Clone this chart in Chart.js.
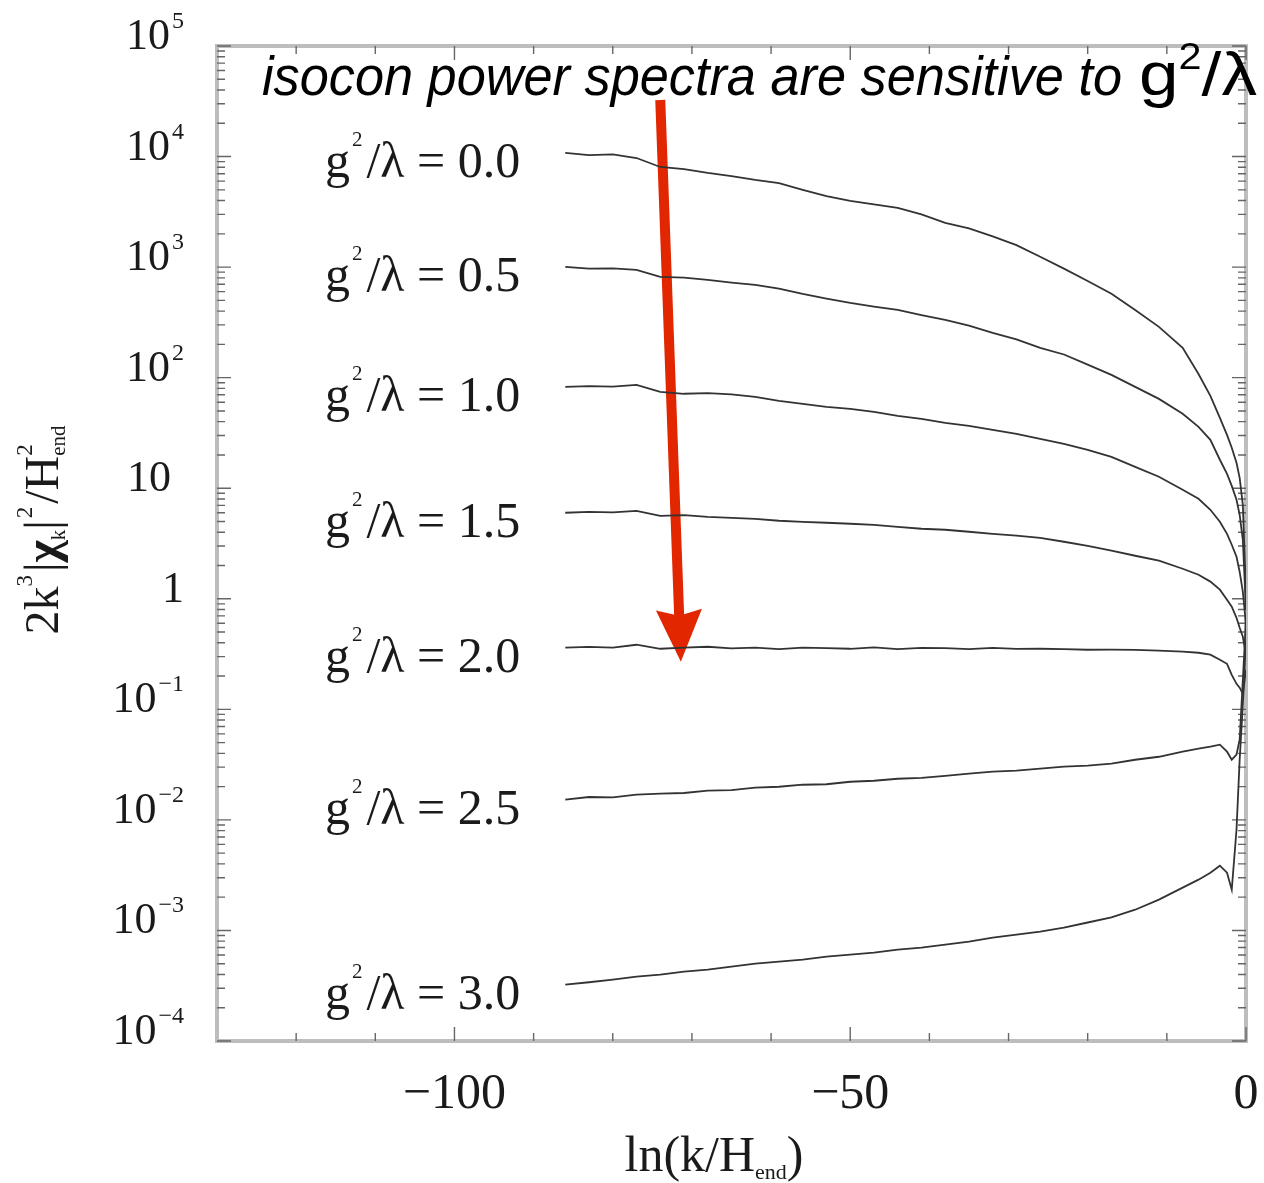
<!DOCTYPE html>
<html>
<head>
<meta charset="utf-8">
<script src="https://cdn.jsdelivr.net/npm/chart.js@4.4.1/dist/chart.umd.min.js"></script>
<style>
  html, body { margin: 0; padding: 0; background: #fff; }
  #wrap { width: 1264px; height: 1183px; }
</style>
</head>
<body>
<div id="wrap"><canvas id="spectra" width="1264" height="1183"></canvas></div>
<script>
// ln(k/H_end) sample points, shared by every curve
const lnK = [-86, -83, -80, -77, -74, -71, -68, -65, -62, -59, -56, -53, -50, -47, -44, -41,
  -38, -35, -32, -29, -26, -23, -20, -17, -14, -11, -8, -6, -4.5, -3.3, -2.4, -1.8, -1.2, -0.8, -0.4, 0];

// g^2/lambda values, one per curve
const couplings = ["0.0", "0.5", "1.0", "1.5", "2.0", "2.5", "3.0"];

// 2k^3|chi_k|^2/H_end^2
const spectraG00 = [10790, 10300, 10450, 9700, 8050, 7700, 7110, 6650, 6140, 5750, 4990, 4380, 3970, 3700, 3430, 3000,
  2510, 2240, 1900, 1580, 1240, 970, 750, 575, 410, 288, 186, 108, 68.4, 43.3, 30.4, 23.2, 17.0, 12.4, 7.08, 1.09];
const spectraG05 = [1005, 970, 975, 944, 815, 805, 766, 725, 690, 640, 573, 520, 474, 440, 410, 368,
  333, 296, 254, 222, 186, 162, 131, 106, 82.6, 64.3, 47.1, 35.9, 27.4, 18.1, 13.5, 10.5, 7.86, 5.75, 3.41, 0.794];
const spectraG10 = [82.6, 84.0, 83.0, 86.1, 74.5, 71.5, 72.5, 70.5, 67.0, 61.7, 58.0, 54.5, 52.3, 49.1, 45.2, 42.4,
  39.0, 36.6, 33.7, 31.0, 28.0, 25.2, 22.2, 19.2, 15.6, 12.7, 9.68, 8.02, 6.38, 4.97, 3.87, 3.08, 2.40, 1.75, 1.16, 0.582];
const spectraG15 = [6.00, 6.12, 6.05, 6.25, 5.63, 5.70, 5.51, 5.40, 5.29, 5.08, 4.97, 4.87, 4.77, 4.67, 4.48, 4.30,
  4.21, 4.04, 3.87, 3.72, 3.56, 3.28, 3.01, 2.72, 2.45, 2.21, 1.87, 1.65, 1.43, 1.21, 0.98, 0.847, 0.673, 0.547, 0.453, 0.312];
const spectraG20 = [0.361, 0.368, 0.362, 0.384, 0.353, 0.361, 0.368, 0.356, 0.361, 0.350, 0.362, 0.358, 0.353, 0.363, 0.351, 0.360,
  0.358, 0.350, 0.359, 0.352, 0.353, 0.350, 0.346, 0.347, 0.345, 0.339, 0.332, 0.325, 0.312, 0.281, 0.258, 0.205, 0.170, 0.157, 0.138, 0.228];
const spectraG25 = [0.01524, 0.01610, 0.01600, 0.01690, 0.01726, 0.01750, 0.01837, 0.01860, 0.01954, 0.01995, 0.02080, 0.02100,
  0.02213, 0.02260, 0.02355, 0.02404, 0.02506, 0.02618, 0.02729, 0.02786, 0.02904, 0.03028, 0.03090, 0.03221, 0.03500, 0.03724,
  0.04140, 0.04406, 0.04592, 0.04786, 0.04140, 0.03500, 0.03890, 0.05310, 0.1854, 0.646];
const spectraG30 = [3.24e-4, 3.40e-4, 3.59e-4, 3.82e-4, 3.98e-4, 4.24e-4, 4.42e-4, 4.71e-4, 5.01e-4, 5.22e-4, 5.44e-4, 5.79e-4,
  6.04e-4, 6.30e-4, 6.70e-4, 6.98e-4, 7.44e-4, 7.92e-4, 8.61e-4, 9.16e-4, 9.75e-4, 1.06e-3, 1.18e-3, 1.31e-3, 1.54e-3, 1.90e-3,
  2.44e-3, 2.88e-3, 3.33e-3, 3.85e-3, 3.33e-3, 2.34e-3, 8.15e-3, 0.035, 0.110, 0.426];
const spectra = [spectraG00, spectraG05, spectraG10, spectraG15, spectraG20, spectraG25, spectraG30];

// axis ticks
const xMajorTicks = [-100, -50, 0];
const xMinorTicks = [-120, -110, -90, -80, -70, -60, -40, -30, -20, -10];
const yDecades = [-4, -3, -2, -1, 0, 1, 2, 3, 4, 5];

const titleText = "isocon power spectra are sensitive to";

const SERIF = '"Liberation Serif", "Times New Roman", serif';
const SANS = '"Liberation Sans", Arial, sans-serif';

function supText(n) {
  return n < 0 ? "\u2212" + Math.abs(n) : String(n);
}

function drawRich(ctx, parts, x, y) {
  let cx = x;
  parts.forEach((p) => {
    ctx.font = p.font;
    ctx.fillText(p.text, cx, y + (p.dy || 0));
    if (!p.stack) cx += ctx.measureText(p.text).width + (p.gap || 0);
  });
}

function richWidth(ctx, parts) {
  let w = 0;
  parts.forEach((p) => {
    ctx.font = p.font;
    if (!p.stack) w += ctx.measureText(p.text).width + (p.gap || 0);
  });
  return w;
}

// frame, inward ticks and the red arrow, under the curves
const framePlugin = {
  id: "frame",
  beforeDatasetsDraw(chart) {
    const { ctx, chartArea: a, scales } = chart;
    const xs = scales.x;
    const ys = scales.y;
    ctx.save();
    ctx.strokeStyle = "#bdbdbd";
    ctx.lineWidth = 4;
    ctx.strokeRect(a.left, a.top, a.right - a.left, a.bottom - a.top);

    ctx.strokeStyle = "#666";
    ctx.lineWidth = 1.4;
    ctx.beginPath();
    yDecades.forEach((e) => {
      const py = ys.getPixelForValue(Math.pow(10, e));
      ctx.moveTo(a.left, py); ctx.lineTo(a.left + 14, py);
      ctx.moveTo(a.right, py); ctx.lineTo(a.right - 14, py);
      if (e < 5) {
        for (let m = 2; m <= 9; m++) {
          const pm = ys.getPixelForValue(m * Math.pow(10, e));
          ctx.moveTo(a.left, pm); ctx.lineTo(a.left + 8, pm);
          ctx.moveTo(a.right, pm); ctx.lineTo(a.right - 8, pm);
        }
      }
    });
    xMajorTicks.forEach((v) => {
      const px = xs.getPixelForValue(v);
      ctx.moveTo(px, a.bottom); ctx.lineTo(px, a.bottom - 14);
      ctx.moveTo(px, a.top); ctx.lineTo(px, a.top + 14);
    });
    xMinorTicks.forEach((v) => {
      const px = xs.getPixelForValue(v);
      ctx.moveTo(px, a.bottom); ctx.lineTo(px, a.bottom - 8);
      ctx.moveTo(px, a.top); ctx.lineTo(px, a.top + 8);
    });
    ctx.stroke();

    // arrow: from the top of the plot down to the g^2/lambda = 2.0 curve
    const x1 = xs.getPixelForValue(-74.0);
    const y1 = ys.getPixelForValue(3.25e4);
    const x2 = xs.getPixelForValue(-71.4);
    const y2 = ys.getPixelForValue(0.27);
    const ang = Math.atan2(y2 - y1, x2 - x1);
    const headLen = 46;
    const headHalf = 23;
    const bx = x2 - headLen * Math.cos(ang);
    const by = y2 - headLen * Math.sin(ang);
    ctx.strokeStyle = "#e12600";
    ctx.fillStyle = "#e12600";
    ctx.lineWidth = 10;
    ctx.beginPath();
    ctx.moveTo(x1, y1);
    ctx.lineTo(bx + 4 * Math.cos(ang), by + 4 * Math.sin(ang));
    ctx.stroke();
    ctx.beginPath();
    ctx.moveTo(x2, y2);
    ctx.lineTo(bx - headHalf * Math.sin(ang) - 6 * Math.cos(ang), by + headHalf * Math.cos(ang) - 6 * Math.sin(ang));
    ctx.lineTo(bx, by);
    ctx.lineTo(bx + headHalf * Math.sin(ang) - 6 * Math.cos(ang), by - headHalf * Math.cos(ang) - 6 * Math.sin(ang));
    ctx.closePath();
    ctx.fill();
    ctx.restore();
  },
};

// y tick labels with exponents, axis titles, curve labels, headline
const textPlugin = {
  id: "texts",
  afterDraw(chart) {
    const { ctx, scales } = chart;
    const xs = scales.x;
    const ys = scales.y;
    ctx.save();
    ctx.fillStyle = "#1a1a1a";
    ctx.textBaseline = "alphabetic";
    ctx.textAlign = "left";

    const baseFont = "44px " + SERIF;
    const expFont = "24px " + SERIF;
    yDecades.forEach((e) => {
      const py = ys.getPixelForValue(Math.pow(10, e)) + 3;
      let parts;
      let right = 184;
      if (e === 0) parts = [{ text: "1", font: baseFont }];
      else if (e === 1) { parts = [{ text: "10", font: baseFont }]; right = 171; }
      else parts = [{ text: "10", font: baseFont, gap: 2 }, { text: supText(e), font: expFont, dy: -21 }];
      drawRich(ctx, parts, right - richWidth(ctx, parts), py);
    });

    // x axis title
    const xt = [
      { text: "ln(k/H", font: "50px " + SERIF },
      { text: "end", font: "22px " + SERIF, dy: 8 },
      { text: ")", font: "50px " + SERIF },
    ];
    drawRich(ctx, xt, 714 - richWidth(ctx, xt) / 2, 1171);

    // y axis title, rotated
    const yt = [
      { text: "2k", font: "48px " + SERIF },
      { text: "3", font: "23px " + SERIF, dy: -26, gap: 3 },
      { text: "|", font: "48px " + SERIF },
      { text: "\u03c7", font: "bold 48px " + SERIF },
      { text: "k", font: "21px " + SERIF, dy: 7 },
      { text: "|", font: "48px " + SERIF, gap: 2 },
      { text: "2", font: "23px " + SERIF, dy: -26, gap: 3 },
      { text: "/H", font: "48px " + SERIF },
      { text: "2", font: "23px " + SERIF, dy: -26, stack: true },
      { text: "end", font: "21px " + SERIF, dy: 7 },
    ];
    ctx.save();
    ctx.translate(58, 530);
    ctx.rotate(-Math.PI / 2);
    drawRich(ctx, yt, -richWidth(ctx, yt) / 2, 0);
    ctx.restore();

    // curve labels, right-aligned left of each curve's start
    const x0 = xs.getPixelForValue(lnK[0]) - 45;
    couplings.forEach((c, i) => {
      const py = ys.getPixelForValue(spectra[i][0]) + 24;
      const parts = [
        { text: "g", font: "50px " + SERIF, gap: 2 },
        { text: "2", font: "21px " + SERIF, dy: -31, gap: 4 },
        { text: "/\u03bb = " + c, font: "50px " + SERIF },
      ];
      drawRich(ctx, parts, x0 - richWidth(ctx, parts), py);
    });

    // headline
    ctx.fillStyle = "#000";
    ctx.font = "italic 56px " + SANS;
    const tw = ctx.measureText(titleText).width;
    ctx.save();
    ctx.translate(262, 95);
    ctx.scale(860 / tw, 1);
    ctx.fillText(titleText, 0, 0);
    ctx.restore();
    const gl = [
      { text: "g", font: "62px " + SANS },
      { text: "2", font: "36px " + SANS, dy: -26 },
      { text: "/\u03bb", font: "62px " + SANS },
    ];
    const gw = richWidth(ctx, gl);
    ctx.save();
    ctx.translate(1139, 95);
    ctx.scale(118 / gw, 1);
    drawRich(ctx, gl, 0, 0);
    ctx.restore();
    ctx.restore();
  },
};

const ctx = document.getElementById("spectra").getContext("2d");
new Chart(ctx, {
  type: "line",
  data: {
    datasets: couplings.map((c, i) => ({
      label: "g2/lambda = " + c,
      data: lnK.map((x, j) => ({ x: x, y: spectra[i][j] })),
      borderColor: "#333",
      borderWidth: 1.8,
      pointRadius: 0,
      tension: 0,
      fill: false,
    })),
  },
  options: {
    responsive: false,
    animation: false,
    devicePixelRatio: 1,
    layout: { padding: { top: 46, right: 18, left: 0, bottom: 0 } },
    plugins: { legend: { display: false }, tooltip: { enabled: false } },
    scales: {
      x: {
        type: "linear",
        min: -130,
        max: 0,
        grid: { display: false, drawTicks: false },
        border: { display: false },
        afterBuildTicks: (scale) => {
          scale.ticks = xMajorTicks.map((v) => ({ value: v }));
        },
        afterFit: (scale) => {
          scale.height = 142;
          // the "0" label may hang over the right edge, keep the plot width
          scale.paddingLeft = 0;
          scale.paddingRight = 0;
        },
        ticks: {
          padding: 24,
          color: "#1a1a1a",
          maxRotation: 0,
          autoSkip: false,
          font: { family: SERIF, size: 50 },
          callback: (v) => (v < 0 ? "\u2212" + Math.abs(v) : String(v)),
        },
      },
      y: {
        type: "logarithmic",
        min: 1e-4,
        max: 1e5,
        grid: { display: false, drawTicks: false },
        border: { display: false },
        ticks: { display: false },
        afterFit: (scale) => {
          scale.width = 217;
        },
      },
    },
  },
  plugins: [framePlugin, textPlugin],
});
</script>
</body>
</html>
